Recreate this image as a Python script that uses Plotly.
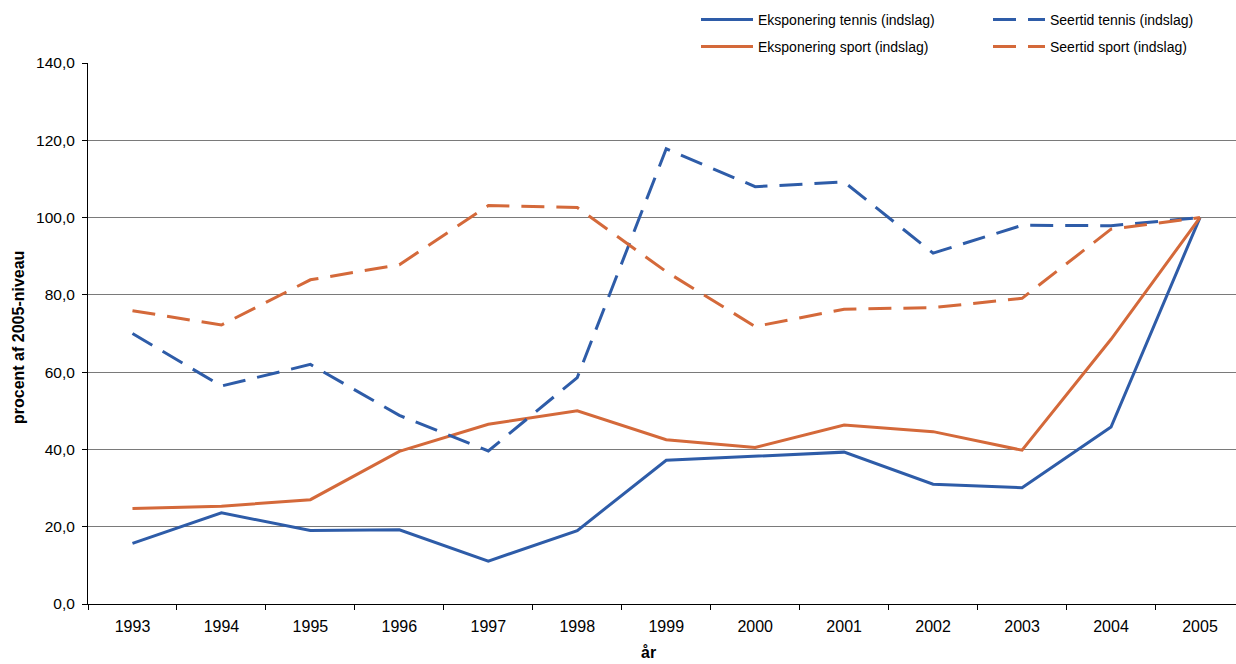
import plotly.graph_objects as go

years = ["1993", "1994", "1995", "1996", "1997", "1998", "1999",
         "2000", "2001", "2002", "2003", "2004", "2005"]

eksp_tennis = [15.7, 23.6, 19.0, 19.2, 11.1, 19.0, 37.2, 38.2, 39.3, 31.0, 30.1, 45.8, 100.0]
eksp_sport = [24.7, 25.3, 27.0, 39.5, 46.5, 50.0, 42.5, 40.5, 46.3, 44.6, 39.8, 68.5, 100.0]
seer_tennis = [70.0, 56.4, 62.0, 48.8, 39.6, 58.6, 117.8, 108.0, 109.2, 90.8, 98.0, 97.9, 100.0]
seer_sport = [75.9, 72.2, 83.9, 87.8, 103.1, 102.6, 86.0, 71.8, 76.3, 76.7, 79.1, 97.0, 100.0]

names = ["Eksponering tennis (indslag)", "Eksponering sport (indslag)",
         "Seertid tennis (indslag)", "Seertid sport (indslag)"]
yticks = [0, 20, 40, 60, 80, 100, 120, 140]

BLUE = "#2E5CA8"
ORANGE = "#D4693A"
DASH = "23px,12px"

W, H = 1236, 664
L, R, T, B = 88, 0, 63, 60
pw = W - L - R
ph = H - T - B

def px_x(p):
    return (p - L) / pw

def px_y(p):
    return 1 - (p - T) / ph

fig = go.Figure()
series = [
    (eksp_tennis, names[0], BLUE, "solid", "legend"),
    (eksp_sport, names[1], ORANGE, "solid", "legend2"),
    (seer_tennis, names[2], BLUE, DASH, "legend3"),
    (seer_sport, names[3], ORANGE, DASH, "legend4"),
]
for vals, name, col, dash, lg in series:
    fig.add_trace(go.Scatter(
        x=years, y=vals, name=name, mode="lines",
        line=dict(color=col, width=3, dash=dash),
        legend=lg,
    ))

legfont = dict(family="Liberation Sans, Arial, sans-serif", size=14, color="#000000")
def leg(xpx, ypx):
    return dict(x=px_x(xpx), y=px_y(ypx), xanchor="left", yanchor="middle",
                bgcolor="rgba(0,0,0,0)", borderwidth=0, font=legfont,
                itemwidth=52, orientation="v")

fig.update_layout(
    width=W, height=H,
    margin=dict(l=L, r=R, t=T, b=B, pad=0, autoexpand=False),
    plot_bgcolor="white", paper_bgcolor="white",
    separators=",.",
    font=dict(family="Liberation Sans, Arial, sans-serif", size=15.5, color="#000000"),
    showlegend=True,
    legend=leg(696, 20),
    legend2=leg(696, 47),
    legend3=leg(988, 20),
    legend4=leg(988, 47),
    xaxis=dict(
        type="category", range=[-0.5, 12 + (W - 1200) / 88.9],
        tickson="boundaries", ticks="outside", ticklen=5, tickcolor="#000000",
        showline=True, linecolor="#000000", linewidth=1,
        showgrid=False, zeroline=False, automargin=False,
        tickfont=dict(size=16), ticklabelstandoff=8,
    ),
    yaxis=dict(
        range=[0, 140], tickvals=yticks, tickformat=".1f",
        ticks="outside", ticklen=5, tickcolor="#000000",
        showline=True, linecolor="#000000", linewidth=1,
        showgrid=True, gridcolor="#7a7a7a", gridwidth=1.3,
        zeroline=False, automargin=False, tickfont=dict(size=15.5),
        ticklabelstandoff=4,
    ),
    annotations=[
        dict(text="<b>år</b>", x=px_x(648), y=px_y(652), xref="paper", yref="paper",
             showarrow=False, xanchor="center", yanchor="middle",
             font=dict(size=16)),
        dict(text="<b>procent af 2005-niveau</b>", x=px_x(18), y=px_y(338),
             xref="paper", yref="paper", showarrow=False, textangle=-90,
             xanchor="center", yanchor="middle", font=dict(size=16)),
    ],
)

fig.write_html("out.html", config={"displayModeBar": False},
               post_script="document.body.style.margin='0';")
